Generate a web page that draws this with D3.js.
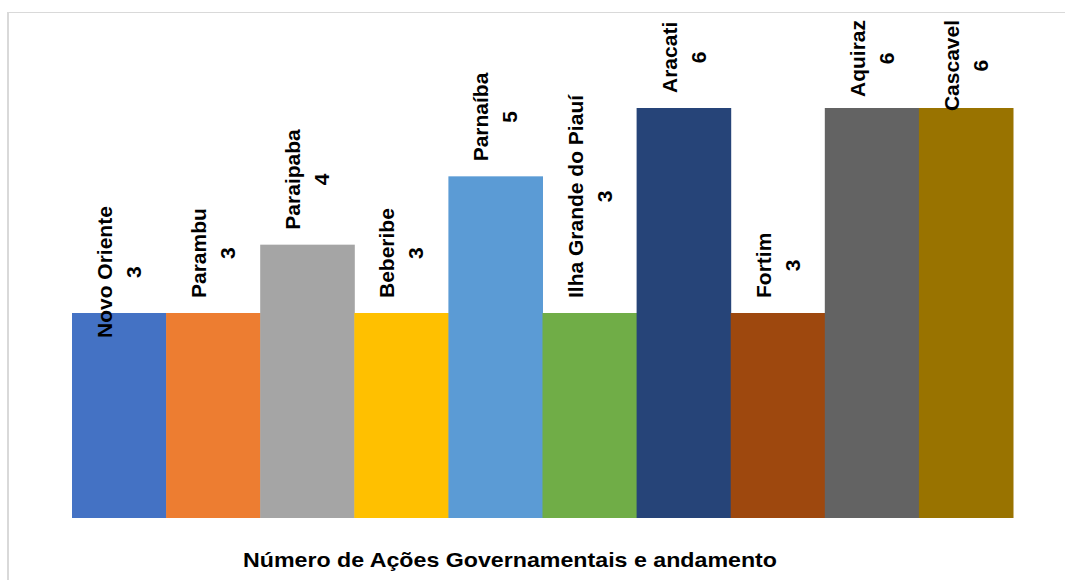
<!DOCTYPE html>
<html>
<head>
<meta charset="utf-8">
<script src="https://cdn.jsdelivr.net/npm/d3@7"></script>
<style>
  html, body { margin: 0; padding: 0; background: #fff; }
  svg { display: block; }
</style>
</head>
<body>
<svg id="chart" width="1065" height="580"></svg>
<script>
// ---- data ----
const categories = ["Novo Oriente", "Parambu", "Paraipaba", "Beberibe", "Parnaíba",
  "Ilha Grande do Piauí", "Aracati", "Fortim", "Aquiraz", "Cascavel"];
const values = [3, 3, 4, 3, 5, 3, 6, 3, 6, 6];
const colors = ["#4472C4", "#ED7D31", "#A5A5A5", "#FFC000", "#5B9BD5",
  "#70AD47", "#264478", "#9E480E", "#636363", "#997300"];
const title = "Número de Ações Governamentais e andamento";

// ---- layout ----
const W = 1065, H = 580;
const plot = { left: 72, right: 1013, top: 20, bottom: 518 };
const labelGap = 15;          // px between bar top and label end
const labelLineOffset = 14.5; // px from bar centre to each label line centre
const labelFont = 21;
// manual label nudges (px, downward) seen in the reference
const labelNudge = [40, 0, 0, 0, 0, 0, 0, 0, 0, 0];

const svg = d3.select("#chart");

// frame
svg.append("line").attr("x1", 8).attr("x2", 8).attr("y1", 12).attr("y2", H)
  .attr("stroke", "#d9d9d9").attr("stroke-width", 2);
svg.append("line").attr("x1", 7).attr("x2", W).attr("y1", 12.5).attr("y2", 12.5)
  .attr("stroke", "#d9d9d9").attr("stroke-width", 1);

const x = d3.scaleBand().domain(categories).range([plot.left, plot.right]).padding(0);
const y = d3.scaleLinear().domain([0, 6]).range([plot.bottom, 108]);

const data = categories.map((c, i) => ({ c, v: values[i], col: colors[i], i }));

svg.append("g").selectAll("rect").data(data).join("rect")
  .attr("x", d => x(d.c))
  .attr("y", d => y(d.v))
  .attr("width", x.bandwidth() + 0.5)
  .attr("height", d => y(0) - y(d.v))
  .attr("fill", d => d.col);

// labels (rotated, two lines: name and value)
const lg = svg.append("g")
  .style("font-family", "'Liberation Sans', Arial, sans-serif")
  .style("font-weight", "bold")
  .style("font-size", labelFont + "px")
  .attr("fill", "#000");

const capH = labelFont * 0.716;

data.forEach(d => {
  const cx = x(d.c) + x.bandwidth() / 2;
  const g = lg.append("g");
  const t1 = g.append("text").text(d.c).attr("text-anchor", "middle");
  const t2 = g.append("text").text(d.v).attr("text-anchor", "middle");
  const len = Math.max(t1.node().getComputedTextLength(), t2.node().getComputedTextLength());
  let bottom = y(d.v) - labelGap;
  let top = bottom - len;
  if (top < plot.top) { top = plot.top; bottom = top + len; }
  const cy = (top + bottom) / 2 + labelNudge[d.i];
  const bx1 = cx - labelLineOffset + capH / 2;
  const bx2 = cx + labelLineOffset + capH / 2;
  t1.attr("transform", `translate(${bx1},${cy}) rotate(-90)`);
  t2.attr("transform", `translate(${bx2},${cy}) rotate(-90)`);
});

// title
svg.append("text")
  .attr("x", (243 + 777) / 2)
  .attr("y", 566.5)
  .attr("text-anchor", "middle")
  .attr("textLength", 534)
  .attr("lengthAdjust", "spacingAndGlyphs")
  .style("font-family", "'Liberation Sans', Arial, sans-serif")
  .style("font-weight", "bold")
  .style("font-size", "21px")
  .text(title);
</script>
</body>
</html>
